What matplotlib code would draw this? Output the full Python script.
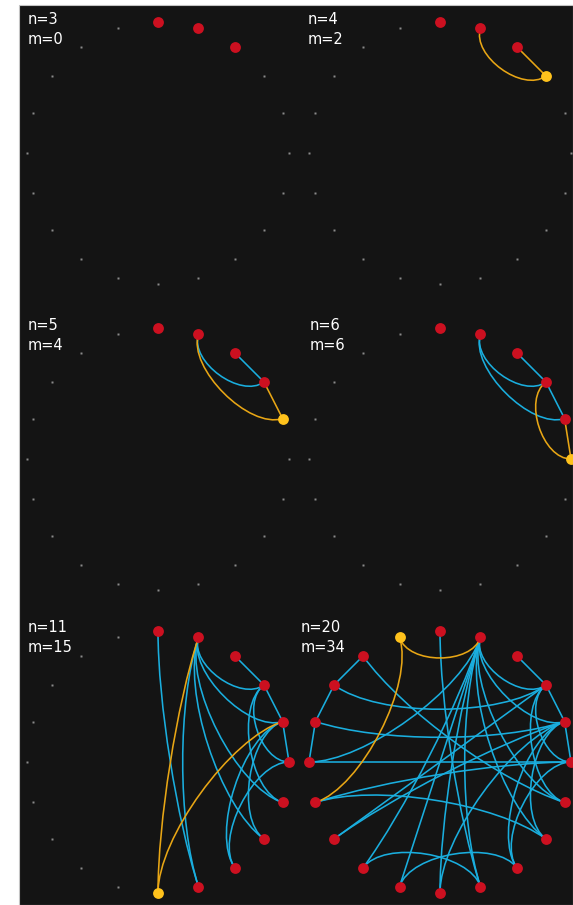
import numpy as np
import matplotlib
matplotlib.use("Agg")
import matplotlib.pyplot as plt
from matplotlib.path import Path
from matplotlib.patches import PathPatch, Rectangle

# ---------------------------------------------------------------------------
# Growth snapshots: node count, edge count and edge list per snapshot.
# Nodes sit on a ring of 20 slots, numbered clockwise from the top.
# The last node added in each snapshot is highlighted, with its edges.
# ---------------------------------------------------------------------------
SLOTS = 20
PANEL_N = [3, 4, 5, 6, 11, 20]
PANEL_M = [0, 2, 4, 6, 15, 34]

EDGES_N3 = []
EDGES_N4 = [(1, 3), (2, 3)]
EDGES_N5 = [(1, 3), (2, 3), (1, 4), (3, 4)]
EDGES_N6 = [(1, 3), (2, 3), (1, 4), (3, 4), (3, 5), (4, 5)]
EDGES_N11 = EDGES_N6 + [(1, 6), (3, 6), (1, 7), (4, 7), (4, 8), (5, 8),
                        (0, 9), (1, 9), (1, 10), (4, 10)]
EDGES_N20 = EDGES_N11 + [(11, 1), (11, 8), (12, 1), (12, 9), (13, 3), (13, 4),
                         (14, 5), (14, 7), (15, 1), (15, 5), (16, 15), (16, 4),
                         (17, 16), (17, 3), (18, 17), (18, 6),
                         (19, 1), (19, 14)]
PANEL_EDGES = [EDGES_N3, EDGES_N4, EDGES_N5, EDGES_N6, EDGES_N11, EDGES_N20]

# canvas geometry (pixels)
W, H = 573, 905
COL_X = [158, 440]
ROW_Y = [153, 459, 762]
RING_R = 131
LABEL_XY = [(28, 12), (308, 12), (28, 318), (310, 318), (28, 620), (301, 620)]
# length of the inward handles (fraction of the radius) by slot distance
HANDLE = [0, 0, 0.22, 0.27, 0.32, 0.37, 0.42, 0.47, 0.52, 0.54, 0.55]

BG = "#141414"
RED = "#cc1020"
YELLOW = "#ffc21c"
BLUE = "#1aaede"
ORANGE = "#e8a615"
GREY = "#8a8a8a"


def slot_xy(cx, cy, k):
    a = np.pi / 2 - 2 * np.pi * k / SLOTS
    return np.array([cx + RING_R * np.cos(a), cy - RING_R * np.sin(a)])


def edge_path(a, b, cx, cy):
    # cubic curve whose handles point from each end toward the ring centre
    p, q = slot_xy(cx, cy, a), slot_xy(cx, cy, b)
    centre = np.array([cx, cy])
    step = min(abs(a - b), SLOTS - abs(a - b))
    h = HANDLE[step]
    c1 = p + h * (centre - p)
    c2 = q + h * (centre - q)
    return Path([p, c1, c2, q],
                [Path.MOVETO, Path.CURVE4, Path.CURVE4, Path.CURVE4])


fig = plt.figure(figsize=(W / 100, H / 100), dpi=100, facecolor="white")
ax = fig.add_axes([0, 0, 1, 1])
ax.set_xlim(0, W)
ax.set_ylim(H, 0)
ax.axis("off")
ax.add_patch(Rectangle((19, 5), W - 19, H - 5, facecolor=BG,
                       edgecolor="#c4c4c4", lw=0.8, zorder=0))

for idx, (n, m, edges) in enumerate(zip(PANEL_N, PANEL_M, PANEL_EDGES)):
    cx, cy = COL_X[idx % 2], ROW_Y[idx // 2]
    newest = n - 1 if n > 3 else None

    # empty slots
    for k in range(n, SLOTS):
        x, y = slot_xy(cx, cy, k)
        ax.plot(x, y, "s", ms=1.9, color=GREY, mec="none", zorder=1)

    # older edges first, newest node's edges on top
    for a, b in sorted(edges, key=lambda e: newest in e):
        col = ORANGE if newest in (a, b) else BLUE
        ax.add_patch(PathPatch(edge_path(a, b, cx, cy), facecolor="none",
                               edgecolor=col, lw=1.15,
                               zorder=3 if col == ORANGE else 2))

    for k in range(n):
        x, y = slot_xy(cx, cy, k)
        ax.plot(x, y, "o", ms=7.8, color=YELLOW if k == newest else RED,
                mec="none", zorder=5)

    lx, ly = LABEL_XY[idx]
    ax.text(lx, ly, f"n={n}\nm={m}", color="white", fontsize=10.5,
            va="top", ha="left", linespacing=1.45, zorder=6)

fig.savefig("out.png", dpi=100, facecolor="white")
